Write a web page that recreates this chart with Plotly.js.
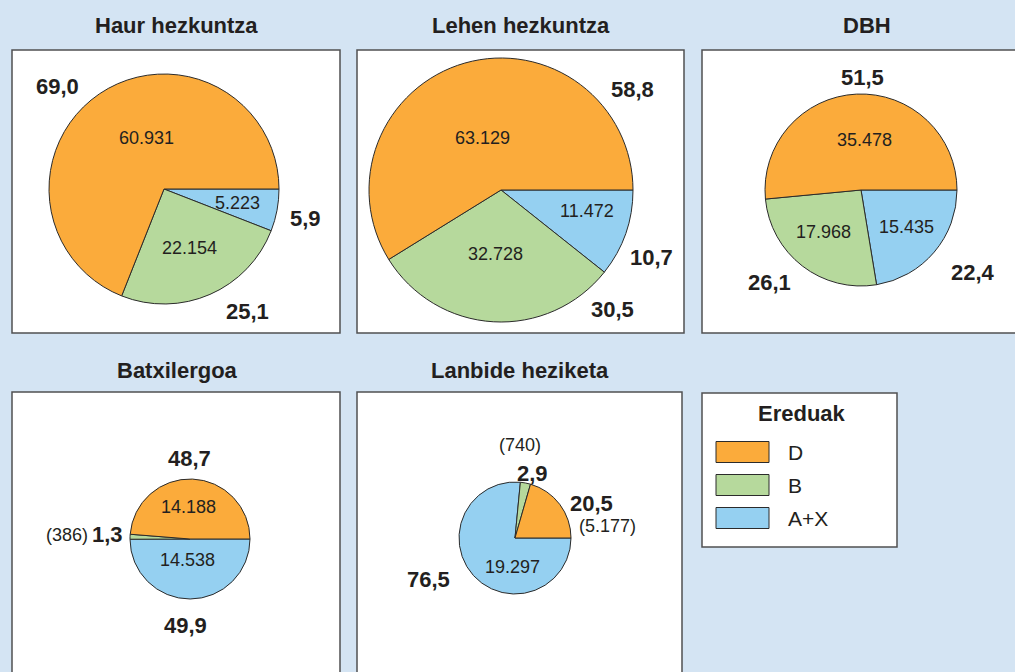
<!DOCTYPE html>
<html>
<head>
<meta charset="utf-8">
<script src="https://cdn.plot.ly/plotly-3.0.1.min.js"></script>
<style>
html,body{margin:0;padding:0;background:#d4e4f3;}
#chart{width:1015px;height:672px;}
</style>
</head>
<body>
<div id="chart"></div>
<script>
// ---------- DATA ----------
const categories = ['D', 'B', 'A+X'];
const levels = ['Haur hezkuntza', 'Lehen hezkuntza', 'DBH', 'Batxilergoa', 'Lanbide heziketa'];
const valuesHaur = [60931, 22154, 5223];
const valuesLehen = [63129, 32728, 11472];
const valuesDBH = [35478, 17968, 15435];
const valuesBatx = [14188, 386, 14538];
const valuesLanbide = [5177, 740, 19297];
const legendTitle = 'Ereduak';
const seriesValues = [valuesHaur, valuesLehen, valuesDBH, valuesBatx, valuesLanbide];

// ---------- STYLE / LAYOUT ----------
const W = 1015, H = 672;
const colors = ['#fbab3b', '#b6d99c', '#95d0f1'];
const bg = '#d4e4f3';
const ink = '#231f20';
const FONT = 'Liberation Sans, Arial, sans-serif';

// pie geometry (px) and frame boxes
const panels = [
  {cx: 164, cy: 189, r: 115, box: [12, 50, 340, 333], tx: 176, ty: 26},
  {cx: 501, cy: 190, r: 132, box: [357, 50, 684, 333], tx: 521, ty: 26},
  {cx: 861, cy: 190, r: 96,  box: [702, 50, 1032, 333], tx: 867, ty: 26},
  {cx: 190, cy: 539, r: 60,  box: [12, 392, 340, 700], tx: 177, ty: 370},
  {cx: 515, cy: 538, r: 56,  box: [357, 392, 682, 700], tx: 520, ty: 370}
];
// label placement relative to slice mid-angle: [angle offset deg, radius factor]
const pctPlace = [
  [[11.9, 1.29], [10.7, 1.29], [-1, 1.26]],
  [[-68.5, 1.25], [46.4, 1.24], [-4.9, 1.25]],
  [[-3.7, 1.17], [-7.1, 1.36], [4.1, 1.45]],
  [[2.3, 1.35], [-0.7, 1.37], [-3.4, 1.44]],
  [[-12.9, 1.49], [-4.7, 1.2], [-16.4, 1.72]]
];
const cntPlace = [
  [[-15.8, 0.47], [0, 0.56], [0, 0.65]],
  [[4, 0.42], [-1.9, 0.49], [5.6, 0.67]],
  [[-7.3, 0.52], [-4.5, 0.59], [0.9, 0.61]],
  [[4.1, 0.53], [0.2, 2.05], [-8.2, 0.35]],
  [[-29.6, 1.67], [7.7, 1.66], [41.9, 0.52]]
];

const px = x => x / W;
const py = y => 1 - y / H;
const fmtInt = n => String(n).replace(/\B(?=(\d{3})+(?!\d))/g, '.');
const fmtPct = p => p.toFixed(1).replace('.', ',');

const traces = [];
const shapes = [];
const annotations = [];

panels.forEach((p, i) => {
  const vals = seriesValues[i];
  const total = vals.reduce((a, b) => a + b, 0);
  // frame
  shapes.push({type: 'rect', xref: 'paper', yref: 'paper', layer: 'below',
    x0: px(p.box[0]), x1: px(p.box[2]), y0: py(p.box[3]), y1: py(p.box[1]),
    fillcolor: '#ffffff', line: {color: '#505052', width: 1.5}});
  // title
  annotations.push({xref: 'paper', yref: 'paper', x: px(p.tx), y: py(p.ty),
    xanchor: 'center', yanchor: 'middle', showarrow: false,
    text: '<b>' + levels[i] + '</b>', font: {family: FONT, size: 22, color: ink}});
  // pie: D starts at 3 o'clock and slices run counterclockwise D, B, A+X
  // (drawn clockwise from 3 o'clock in reverse order, which is the same picture)
  traces.push({
    type: 'pie', labels: categories.slice().reverse(), values: vals.slice().reverse(), sort: false,
    direction: 'clockwise', rotation: 90,
    marker: {colors: colors.slice().reverse(), line: {color: '#2b2b2b', width: 1}},
    textinfo: 'none', hoverinfo: 'label+value+percent', showlegend: false,
    domain: {x: [px(p.cx - p.r), px(p.cx + p.r)], y: [py(p.cy + p.r), py(p.cy - p.r)]}
  });
  // labels
  let cum = 0;
  vals.forEach((v, j) => {
    const frac = v / total;
    const mid = (cum + frac / 2) * 360;
    cum += frac;
    const small = cntPlace[i][j][1] > 1;
    [[pctPlace[i][j], '<b>' + fmtPct(frac * 100) + '</b>', 22],
     [cntPlace[i][j], small ? '(' + fmtInt(v) + ')' : fmtInt(v), 18]].forEach(([pl, txt, sz]) => {
      const a = (mid + pl[0]) * Math.PI / 180;
      const x = p.cx + pl[1] * p.r * Math.cos(a);
      const y = p.cy - pl[1] * p.r * Math.sin(a);
      annotations.push({xref: 'paper', yref: 'paper', x: px(x), y: py(y),
        xanchor: 'center', yanchor: 'middle', showarrow: false,
        text: txt, font: {family: FONT, size: sz, color: ink}});
    });
  });
});

// legend box
shapes.push({type: 'rect', xref: 'paper', yref: 'paper', layer: 'below',
  x0: px(702), x1: px(897), y0: py(547), y1: py(393),
  fillcolor: '#ffffff', line: {color: '#505052', width: 1.5}});
annotations.push({xref: 'paper', yref: 'paper', x: px(802), y: py(413),
  xanchor: 'center', yanchor: 'middle', showarrow: false,
  text: '<b>' + legendTitle + '</b>', font: {family: FONT, size: 22, color: ink}});
categories.forEach((c, j) => {
  const yc = 452 + j * 33;
  shapes.push({type: 'rect', xref: 'paper', yref: 'paper', layer: 'above',
    x0: px(716), x1: px(769), y0: py(yc + 10.5), y1: py(yc - 10.5),
    fillcolor: colors[j], line: {color: '#2b2b2b', width: 1}});
  annotations.push({xref: 'paper', yref: 'paper', x: px(786), y: py(yc),
    xanchor: 'left', yanchor: 'middle', showarrow: false,
    text: c, font: {family: FONT, size: 21, color: ink}});
});

const layout = {
  width: W, height: H,
  margin: {l: 0, r: 0, t: 0, b: 0},
  paper_bgcolor: bg, plot_bgcolor: bg,
  showlegend: false,
  shapes: shapes, annotations: annotations
};
Plotly.newPlot('chart', traces, layout, {displayModeBar: false, staticPlot: true});
</script>
</body>
</html>
